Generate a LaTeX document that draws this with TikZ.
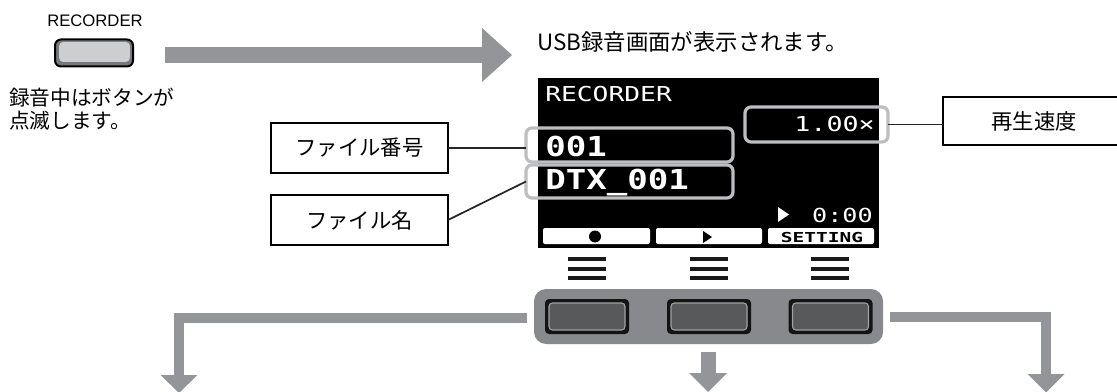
\documentclass[tikz,border=0pt]{standalone}
\usepackage{fontspec}
\usepackage{graphicx}
\setmainfont{Noto Sans CJK JP}
\newfontfamily\latf{Liberation Sans}
\newfontfamily\lcdf{DejaVu Sans Mono}
\definecolor{arrowgray}{HTML}{939598}
\definecolor{hlgray}{HTML}{BCBEC0}
\definecolor{panelgray}{HTML}{88898C}
\definecolor{btndark}{HTML}{58595B}
\definecolor{btnrim}{HTML}{A0A2A5}
\definecolor{recfill}{HTML}{CDCED0}
\definecolor{recrim}{HTML}{77787B}
\newcommand{\jpf}{\fontsize{15.5}{18.75}\selectfont}
\newcommand{\jpl}{\fontsize{16}{19}\selectfont}
\newcommand{\jpt}{\fontsize{16.8}{20}\selectfont}
\newcommand{\lcdtxt}[3]{{\lcdf\fontsize{#1}{#1}\selectfont\scalebox{#2}[1]{#3}}}
\begin{document}
\begin{tikzpicture}[x=0.75pt,y=-0.75pt,
  lbl/.style={draw=black, line width=1.9pt, fill=white, inner sep=0pt, outer sep=0pt, font=\jpl},
  hl/.style={draw=hlgray, line width=2.4pt, rounded corners=4.5pt, inner sep=0pt, outer sep=0pt},
  conn/.style={line width=1.3pt, draw=black!85},
  garrow/.style={draw=arrowgray, line join=miter},
  ghead/.style={fill=arrowgray},
  tabbox/.style={fill=white, rounded corners=1.5pt, inner sep=0pt, minimum height=12pt},
  lcdtext/.style={text=white, inner sep=0pt},
  menubar/.style={line width=3pt, draw=black!90},
  btnout/.style={fill=black!92, rounded corners=3pt, minimum width=63pt, minimum height=26.25pt, inner sep=0pt},
  btnin/.style={fill=btndark, draw=btnrim, line width=0.8pt, rounded corners=2.5pt, minimum width=57pt, minimum height=20.25pt, inner sep=0pt},
  jptext/.style={font=\jpf, inner sep=0pt, anchor=base west},
]
\useasboundingbox (0,0) rectangle (1117,392);

% RECORDER button
\node[inner sep=0pt, anchor=base, font=\latf\fontsize{12.5}{15}\selectfont] (rectxt) at (95,27) {RECORDER};
\node[draw=black, line width=1.5pt, fill=recrim, rounded corners=4.5pt, minimum width=58.5pt, minimum height=20.25pt, inner sep=0pt] (recbtn) at (94,53) {};
\node[fill=recfill, rounded corners=3pt, minimum width=53pt, minimum height=15pt, inner sep=0pt] (recbtnin) at (94.5,52) {};
\node[jptext] (note1) at (9,105.5) {録音中はボタンが};
\node[jptext] (note2) at (9,128.5) {点滅します。};

% top arrow
\coordinate (topstart) at (165,55);
\coordinate (topbase) at (482,55);
\draw[garrow, line width=12pt] (topstart) -- (topbase);
\fill[ghead] (482,28) -- (512,55) -- (482,82) -- cycle;

\node[jptext, font=\jpt] (title) at (537,50.5) {USB録音画面が表示されます。};

% screen
\node[fill=black, minimum width=255.75pt, minimum height=127.5pt, inner sep=0pt] (screen) at (708.5,163) {};
\node[lcdtext, anchor=base west] (scrtitle) at (545,102) {\lcdtxt{15.4}{1.28}{RECORDER}};
\node[lcdtext, anchor=base east] (speedtxt) at (875,132) {\lcdtxt{15.4}{1.3}{1.00×}};
\node[lcdtext, anchor=base west] (numtxt) at (545,157) {\lcdtxt{20.6}{1.24}{\bfseries 001}};
\node[lcdtext, anchor=base west] (nametxt) at (545,190) {\lcdtxt{20.6}{1.24}{\bfseries DTX\_001}};
\node[lcdtext, anchor=base east] (timetxt) at (873,222) {\lcdtxt{14.5}{1.3}{0:00}};
\fill[white] (778,207) -- (789,214.5) -- (778,222) -- cycle;
\node[tabbox, minimum width=80.25pt] (tab1) at (596.5,236) {};
\node[tabbox, minimum width=79.5pt] (tab2) at (709,236) {};
\node[tabbox, minimum width=79.5pt] (tab3) at (821,236) {};
\fill[black] (tab1.center) ++(-1.5,0.5) circle[radius=4.5pt];
\fill[black] (703,231) -- (712,237) -- (703,243) -- cycle;
\node[inner sep=0pt, anchor=base] (settxt) at (822,242) {\lcdtxt{10.3}{1.42}{\bfseries SETTING}};

% highlight boxes
\node[hl, minimum width=155.25pt, minimum height=25.5pt] (numbox) at (629.5,145) {};
\node[hl, minimum width=155.25pt, minimum height=24.75pt] (namebox) at (629.5,181.5) {};
\node[hl, minimum width=107.25pt, minimum height=26.25pt] (speedbox) at (816.5,124.5) {};

% labels
\node[lbl, minimum width=132.75pt, minimum height=37.5pt] (lblnum) at (359.5,148) {ファイル番号};
\node[lbl, minimum width=132.75pt, minimum height=37.5pt] (lblname) at (359.5,220) {ファイル名};
\node[lbl, minimum width=136.5pt, minimum height=36pt] (lblspeed) at (1034,121) {再生速度};
\draw[conn] (lblnum.east) -- (lblnum.east -| numbox.west);
\draw[conn] (lblname.east) -- (namebox.west);
\draw[conn] (speedbox.east) -- (speedbox.east -| lblspeed.west);

% menu icons
\foreach \cx in {587,709,830} {
  \foreach \yy in {259,268.5,278} {
    \draw[menubar] (\cx-19,\yy) -- (\cx+19,\yy);
  }
}

% panel and buttons
\node[fill=panelgray, rounded corners=9pt, minimum width=261.75pt, minimum height=41.25pt, inner sep=0pt] (panel) at (708.5,316.5) {};
\node[btnout] (b1) at (587,316.5) {};
\node[btnout] (b2) at (709,316.5) {};
\node[btnout] (b3) at (830.5,316.5) {};
\node[btnin] (b1in) at (587,316.5) {};
\node[btnin] (b2in) at (709,316.5) {};
\node[btnin] (b3in) at (830.5,316.5) {};

% bottom arrows
\coordinate (lstart) at (527,318);
\coordinate (lend) at (179,375);
\draw[garrow, line width=7.5pt] (lstart) -| (lend);
\fill[ghead] (160.5,375) -- (197.5,375) -- (179,393) -- cycle;

\coordinate (mstart) at (708,352);
\coordinate (mend) at (708,373);
\draw[garrow, line width=11.25pt] (mstart) -- (mend);
\fill[ghead] (689,373) -- (727,373) -- (708,392) -- cycle;

\coordinate (rstart) at (890,317);
\coordinate (rend) at (1046,374);
\draw[garrow, line width=7.5pt] (rstart) -| (rend);
\fill[ghead] (1027.5,374) -- (1064.5,374) -- (1046,392.5) -- cycle;
\end{tikzpicture}
\end{document}
